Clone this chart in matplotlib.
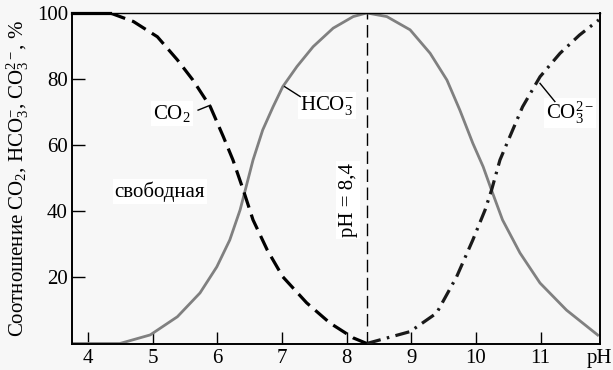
import matplotlib
matplotlib.use("Agg")
import matplotlib.pyplot as plt

plt.rcParams['font.family'] = ['Liberation Serif', 'DejaVu Serif']
plt.rcParams['mathtext.fontset'] = 'custom'
plt.rcParams['mathtext.rm'] = 'Liberation Serif'
plt.rcParams['mathtext.it'] = 'Liberation Serif:italic'
plt.rcParams['mathtext.bf'] = 'Liberation Serif:bold'

# ---- data ----
co2_ph = [3.75, 4.34, 4.70, 5.07, 5.38, 5.62, 5.89, 6.09, 6.24, 6.40, 6.55, 6.77, 7.01, 7.38, 7.74, 8.10, 8.31]
co2_pct = [100, 100, 97.4, 92.8, 85.8, 79.7, 71.6, 62.6, 55.5, 46.4, 37.4, 28.3, 20.2, 12.3, 6.2, 1.7, 0]

hco3_ph = [3.75, 4.49, 4.96, 5.38, 5.73, 5.99, 6.19, 6.35, 6.43, 6.55, 6.70, 6.86, 7.01, 7.23, 7.48,
           7.79, 8.10, 8.31, 8.62, 8.98, 9.29, 9.55, 9.75, 9.95, 10.11, 10.24, 10.41, 10.68, 10.99,
           11.40, 11.90]
hco3_pct = [0, 0, 2.6, 8.1, 15.3, 23.2, 31.3, 40.4, 46.4, 55.5, 64.6, 71.6, 77.7, 83.8, 89.8,
            95.4, 98.9, 100, 98.9, 94.9, 87.8, 79.7, 70.6, 60.6, 53.5, 46.4, 37.4, 27.4, 18.3,
            10.1, 2.3]

co3_ph = [8.31, 8.98, 9.39, 9.70, 9.95, 10.14, 10.24, 10.37, 10.48, 10.72, 10.99, 11.30, 11.60, 11.90]
co3_pct = [0, 3.6, 9.2, 20.2, 31.3, 40.4, 46.4, 55.5, 60.6, 71.6, 80.7, 87.8, 93.3, 97.9]

ph_peak = 8.31
x_ticks = [4, 5, 6, 7, 8, 9, 10, 11]
y_ticks = [20, 40, 60, 80, 100]

bg = '#f7f7f7'
fs = 15
fig = plt.figure(figsize=(6.13, 3.70), dpi=100, facecolor=bg)
ax = fig.add_axes([0.1175, 0.0716, 0.8615, 0.8934])
ax.set_facecolor(bg)

ax.plot(hco3_ph, hco3_pct, color='#808080', lw=2.0, solid_capstyle='butt',
        solid_joinstyle='round', zorder=2)
ax.plot(co2_ph[:2], co2_pct[:2], color='black', lw=2.3, zorder=3, clip_on=False)
ax.plot(co2_ph[1:], co2_pct[1:], color='black', lw=2.3, dashes=(5, 2.3),
        dash_joinstyle='round', zorder=3)
ax.plot(co3_ph, co3_pct, color='#1a1a1a', lw=2.3, dashes=(4.5, 2, 0.8, 2),
        dash_joinstyle='round', zorder=3)
ax.axvline(ph_peak, ymin=0, ymax=1, color='black', lw=1.0, dashes=(9, 4), zorder=1)

ax.set_xlim(3.75, 11.92)
ax.set_ylim(0, 100)

ax.set_xticks(x_ticks + [11.91])
ax.set_xticklabels([str(t) for t in x_ticks] + ['pH'])
ax.xaxis.get_major_ticks()[-1].tick1line.set_visible(False)
ax.set_yticks(y_ticks)
ax.tick_params(direction='in', length=9, width=1.0, labelsize=fs, color='black')
ax.tick_params(axis='x', pad=4)
ax.tick_params(axis='y', pad=3)

for s in ax.spines.values():
    s.set_linewidth(1.4)
ax.spines['top'].set_linewidth(1.0)

ax.set_ylabel('Соотношение CO$_2$, HCO$_3^{-}$, CO$_3^{2-}$, %', fontsize=fs)
ax.yaxis.set_label_coords(-0.077, 0.5)

box = dict(facecolor='white', edgecolor='none', pad=1.5)
ax.text(5.30, 69.7, 'CO$_2$', fontsize=fs, ha='center', va='center', bbox=box, zorder=4)
ax.plot([5.70, 5.89], [70.6, 72.1], color='black', lw=1.0, zorder=4)

ax.text(7.69, 72.1, 'HCO$_3^{-}$', fontsize=fs, ha='center', va='center', bbox=box, zorder=4)
ax.plot([7.04, 7.28], [77.7, 74.7], color='black', lw=1.0, zorder=4)

ax.text(11.45, 69.7, 'CO$_3^{2-}$', fontsize=fs, ha='center', va='center', bbox=box, zorder=4)
ax.plot([10.99, 11.22], [78.7, 73.2], color='black', lw=1.0, zorder=4)

ax.text(5.11, 45.9, 'свободная', fontsize=fs, ha='center', va='center', bbox=box, zorder=4)
ax.text(8.02, 43.4, 'pH = 8,4', fontsize=fs, ha='center', va='center', rotation=90,
        bbox=box, zorder=4)

fig.savefig('out.png', dpi=100, facecolor=bg)
